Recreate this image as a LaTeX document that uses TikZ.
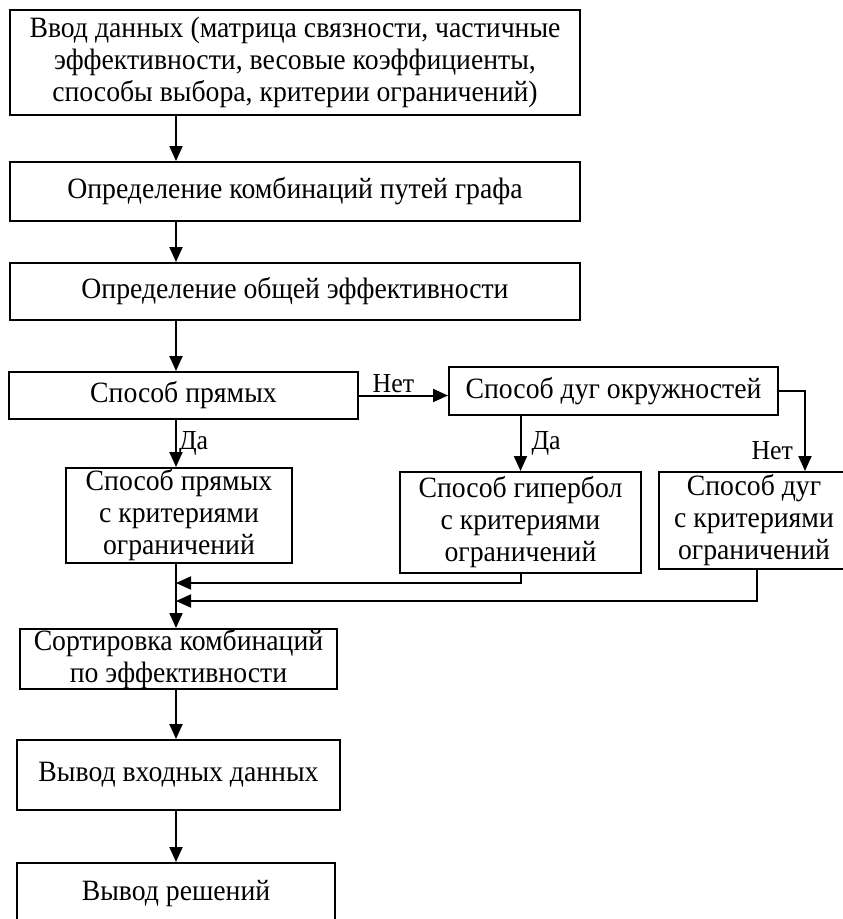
\documentclass[tikz,border=0pt]{standalone}
\usepackage{fontspec}
\setmainfont[FakeStretch=0.94]{Liberation Serif}
\usetikzlibrary{arrows.meta}

\begin{document}
\begin{tikzpicture}[x=1pt,y=-1pt,
  box/.style={draw, line width=2pt, inner sep=0pt, align=center,
    font=\fontsize{29.5}{32}\selectfont},
  arr/.style={line width=2pt, -{Triangle[length=15pt,width=13pt]}},
  lbl/.style={font=\fontsize{27.5}{30}\selectfont, inner sep=2pt}]
\useasboundingbox (0,0) rectangle (843,919);

% main column
\node[box, minimum width=570, minimum height=105] (input) at (295,62.5)
  {Ввод данных (матрица связности, частичные\\эффективности, весовые коэффициенты,\\способы выбора, критерии ограничений)};
\node[box, minimum width=570, minimum height=59] (paths) at (295,191.5)
  {Определение комбинаций путей графа};
\node[box, minimum width=570, minimum height=57] (total) at (295,291.5)
  {Определение общей эффективности};
\node[box, minimum width=349, minimum height=47] (lines) at (183.5,395.5)
  {Способ прямых};
\node[box, minimum width=329, minimum height=48] (arcs) at (613.5,391)
  {Способ дуг окружностей};

% methods with criteria
\node[box, minimum width=226, minimum height=95] (linesc) at (179,515.5)
  {Способ прямых\\с критериями\\ограничений};
\node[box, minimum width=241, minimum height=101] (hyperc) at (520.5,522.5)
  {Способ гипербол\\с критериями\\ограничений};
\node[box, minimum width=190, minimum height=97] (arcsc) at (754,520.5)
  {Способ дуг\\с критериями\\ограничений};

\node[box, minimum width=317, minimum height=60] (sort) at (178.5,659)
  {Сортировка комбинаций\\по эффективности};
\node[box, minimum width=323, minimum height=70] (outdata) at (178.5,775)
  {Вывод входных данных};
\node[box, minimum width=318, minimum height=62] (outsol) at (176,894)
  {Вывод решений};

\coordinate (axis) at (176,0);
\coordinate (right) at (805,0);
\coordinate (j1) at (176,583);
\coordinate (j2) at (176,601);

\draw[arr] (input.south -| axis) -- (paths.north -| axis);
\draw[arr] (paths.south -| axis) -- (total.north -| axis);
\draw[arr] (total.south -| axis) -- (lines.north -| axis);
\draw[arr] (lines.east) -- (lines.east -| arcs.west)
  node[lbl, pos=0.12, above right] {Нет};
\draw[arr] (arcs.east) -| (arcsc.north -| right)
  node[lbl, pos=0.87, left=9pt] {Нет};
\draw[arr] (arcs.south -| hyperc) -- (hyperc.north)
  node[lbl, midway, right=8pt] {Да};
\draw[arr] (lines.south -| axis) -- (linesc.north -| axis)
  node[lbl, midway, right] {Да};

\draw[arr] (linesc.south -| axis) -- (sort.north -| axis);
\draw[arr] (hyperc.south) |- (j1);
\draw[arr] ([xshift=3pt]arcsc.south) |- (j2);
\draw[arr] (sort.south -| axis) -- (outdata.north -| axis);
\draw[arr] (outdata.south -| axis) -- (outsol.north -| axis);
\end{tikzpicture}
\end{document}
